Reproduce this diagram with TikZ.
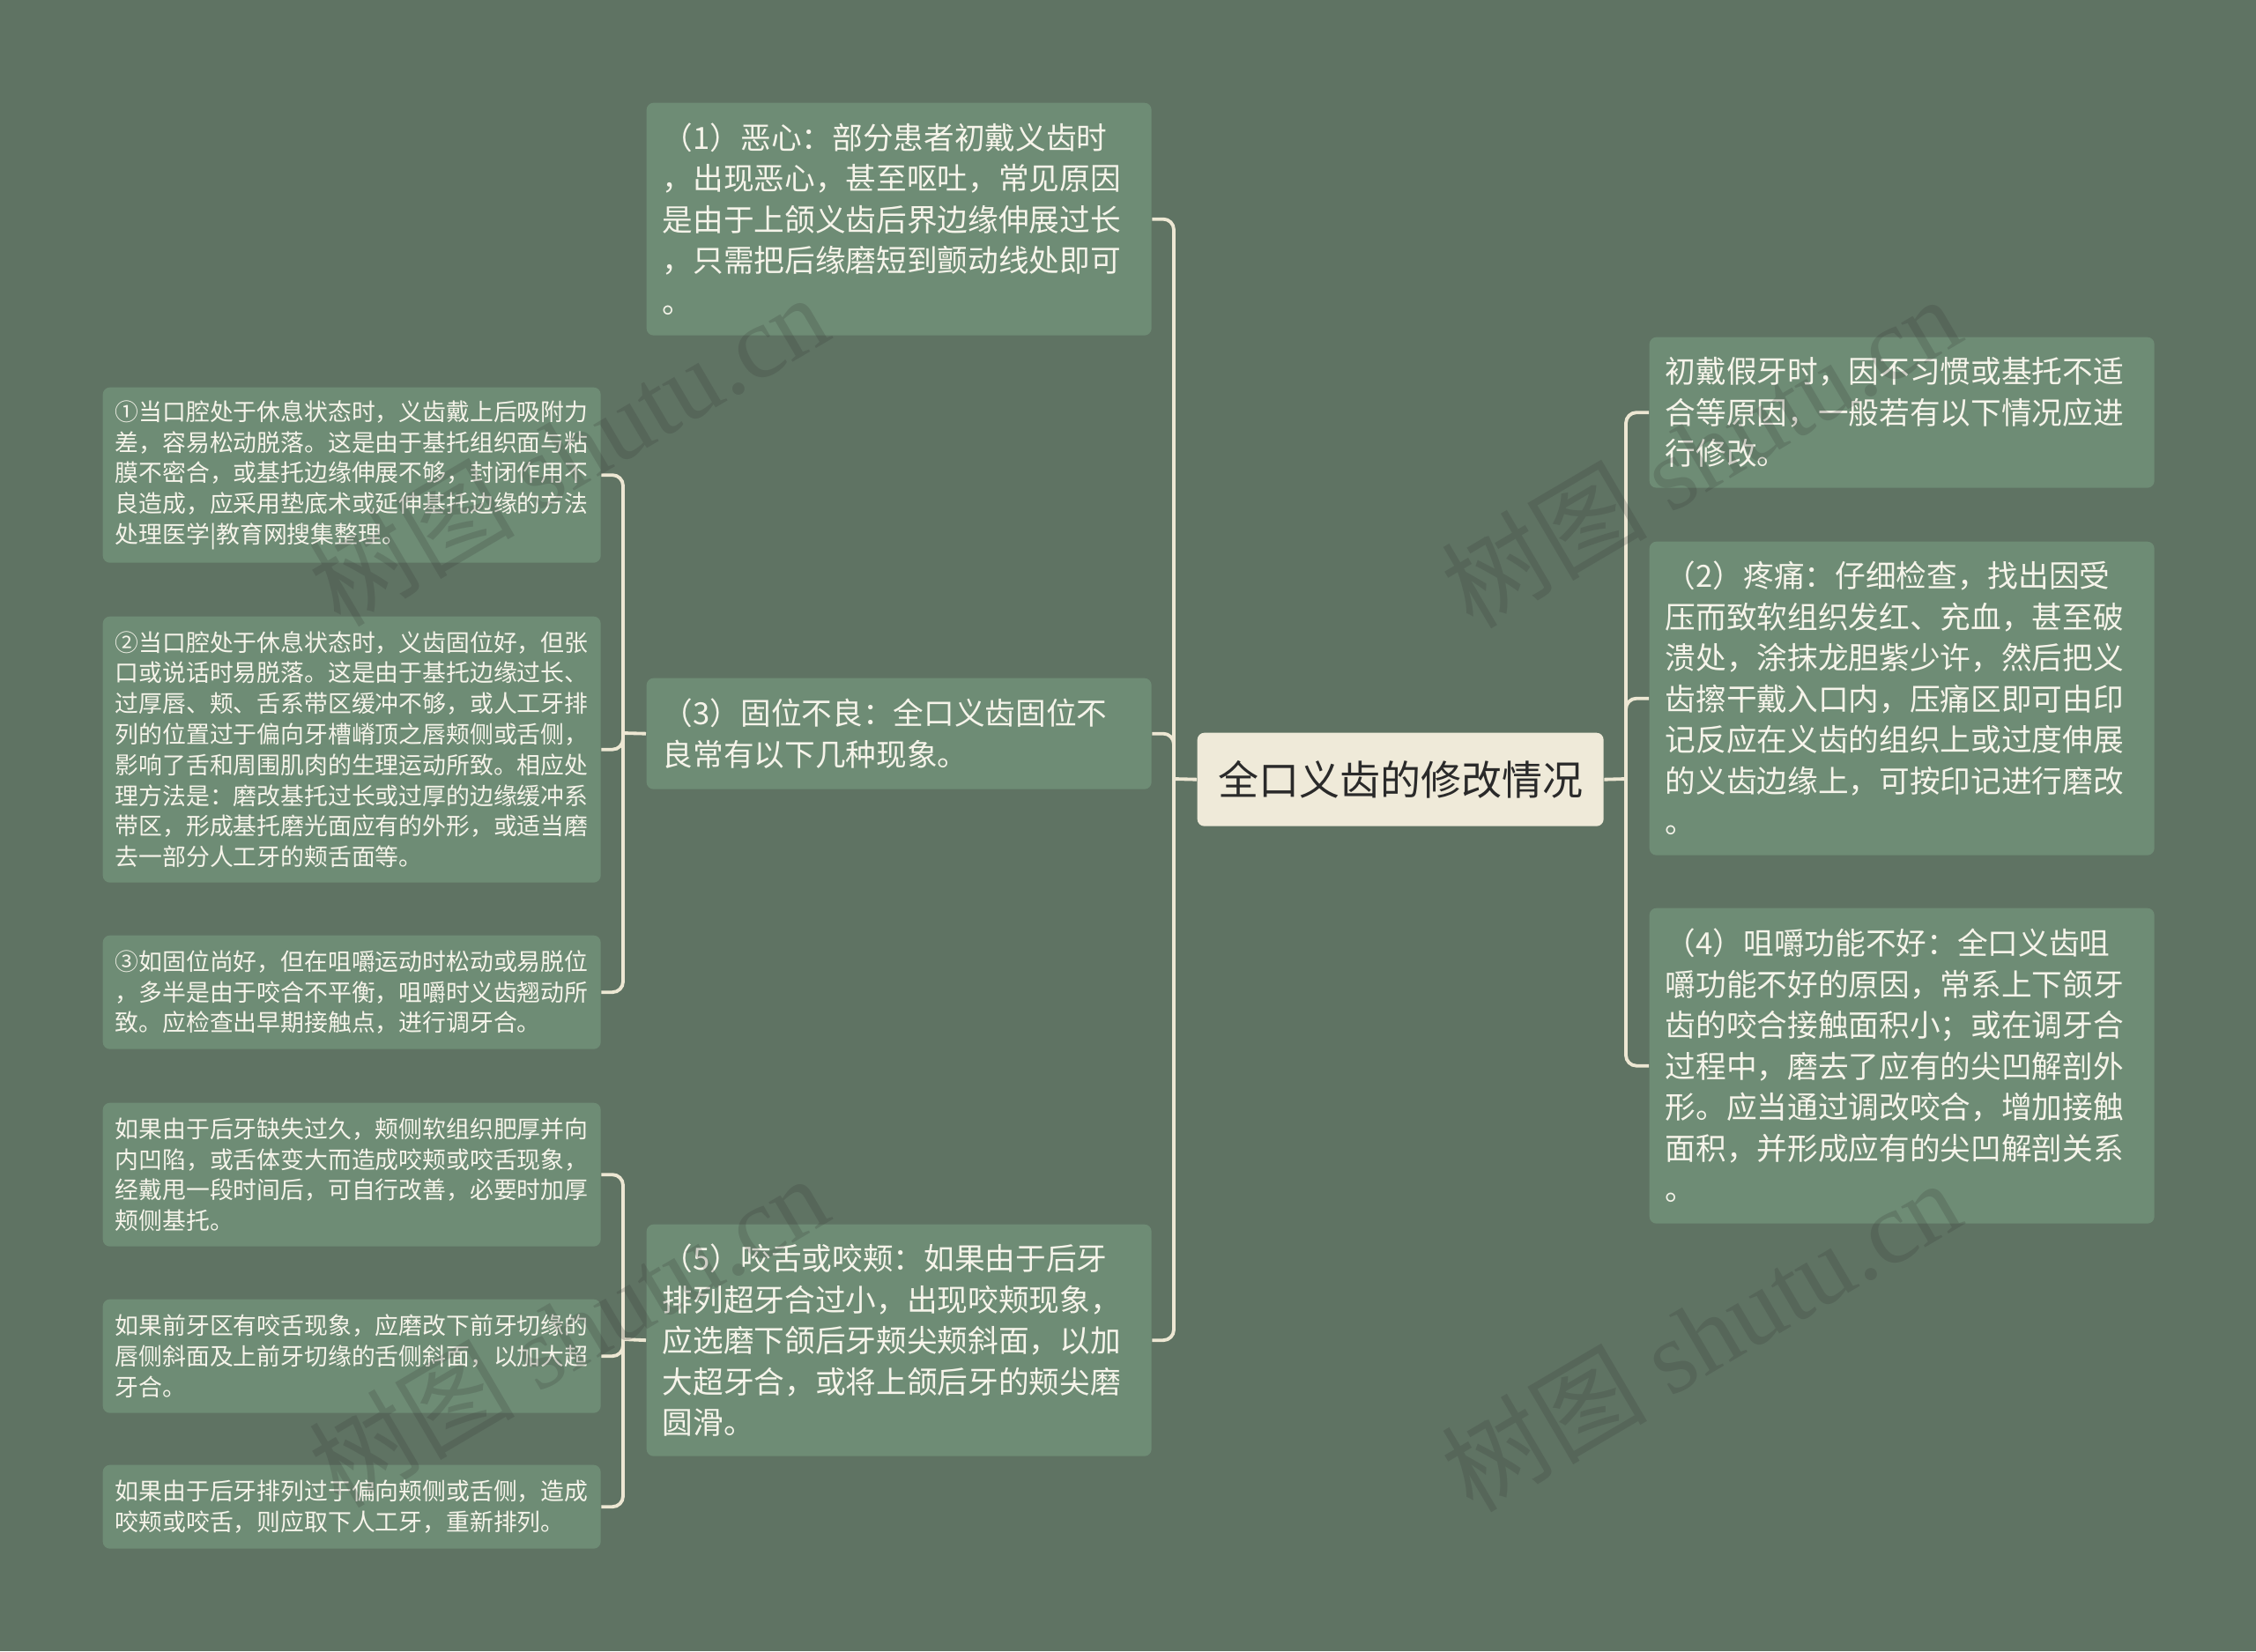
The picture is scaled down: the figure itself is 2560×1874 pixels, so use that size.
\documentclass[tikz,border=0pt]{standalone}
\usepackage{fontspec}
\setmainfont{Noto Sans CJK SC}
\newfontfamily\wmserif{Liberation Serif}
\definecolor{bg}{HTML}{5F7363}
\definecolor{boxc}{HTML}{6E8C75}
\definecolor{cream}{HTML}{EFEAD9}
\definecolor{txt}{HTML}{F6F4EA}
\definecolor{ctxt}{HTML}{2A2A2A}
\definecolor{linkc}{HTML}{EDE7D3}
\begin{document}
\begin{tikzpicture}[x=0.3pt,y=-0.3pt,
  mainbox/.style={fill=boxc, rounded corners=2.4pt, anchor=north west, text=txt, align=left, text width=161pt, inner xsep=5.45pt, inner ysep=0pt, font=\fontsize{10.4pt}{13.95pt}\selectfont},
  smallbox/.style={fill=boxc, rounded corners=2.4pt, anchor=north west, text=txt, align=left, text width=161pt, inner xsep=4.25pt, inner ysep=0pt, font=\fontsize{8.05pt}{10.44pt}\selectfont},
  rootbox/.style={fill=cream, rounded corners=2.4pt, anchor=north west, text=ctxt, inner sep=0pt, font=\fontsize{13.8pt}{16pt}\selectfont},
  link/.style={draw=linkc, line width=1.15pt, rounded corners=3.6pt},
  wm/.style={text=black!80, text opacity=0.2, font=\fontsize{35pt}{40pt}\selectfont, inner sep=0pt, rotate=30.5},
]
\fill[bg] (0,0) rectangle (2560,1874);
\useasboundingbox (0,0) rectangle (2560,1874);

% root
\node[rootbox, minimum width=138.3pt, minimum height=31.8pt] (c) at (1358,831) {全口义齿的修改情况};

% left main boxes
\node[mainbox, minimum height=79.2pt] (n1) at (733,116) {（1）恶心：部分患者初戴义齿时\\，出现恶心，甚至呕吐，常见原因\\是由于上颌义齿后界边缘伸展过长\\，只需把后缘磨短到颤动线处即可\\。};
\node[mainbox, minimum height=37.8pt] (n3) at (733,769) {（3）固位不良：全口义齿固位不\\良常有以下几种现象。};
\node[mainbox, minimum height=78.9pt] (n5) at (733,1389) {（5）咬舌或咬颊：如果由于后牙\\排列超牙合过小，出现咬颊现象，\\应选磨下颌后牙颊尖颊斜面，以加\\大超牙合，或将上颌后牙的颊尖磨\\圆滑。};

% right boxes
\node[mainbox, minimum height=51.3pt] (r0) at (1871,382) {初戴假牙时，因不习惯或基托不适\\合等原因，一般若有以下情况应进\\行修改。};
\node[mainbox, minimum height=106.8pt] (r2) at (1871,614) {（2）疼痛：仔细检查，找出因受\\压而致软组织发红、充血，甚至破\\溃处，涂抹龙胆紫少许，然后把义\\齿擦干戴入口内，压痛区即可由印\\记反应在义齿的组织上或过度伸展\\的义齿边缘上，可按印记进行磨改\\。};
\node[mainbox, minimum height=107.4pt] (r4) at (1871,1030) {（4）咀嚼功能不好：全口义齿咀\\嚼功能不好的原因，常系上下颌牙\\齿的咬合接触面积小；或在调牙合\\过程中，磨去了应有的尖凹解剖外\\形。应当通过调改咬合，增加接触\\面积，并形成应有的尖凹解剖关系\\。};

% left small boxes
\node[smallbox, minimum height=59.7pt] (l1) at (116,439) {①当口腔处于休息状态时，义齿戴上后吸附力\\差，容易松动脱落。这是由于基托组织面与粘\\膜不密合，或基托边缘伸展不够，封闭作用不\\良造成，应采用垫底术或延伸基托边缘的方法\\处理医学|教育网搜集整理。};
\node[smallbox, minimum height=90.6pt] (l2) at (116,699) {②当口腔处于休息状态时，义齿固位好，但张\\口或说话时易脱落。这是由于基托边缘过长、\\过厚唇、颊、舌系带区缓冲不够，或人工牙排\\列的位置过于偏向牙槽嵴顶之唇颊侧或舌侧，\\影响了舌和周围肌肉的生理运动所致。相应处\\理方法是：磨改基托过长或过厚的边缘缓冲系\\带区，形成基托磨光面应有的外形，或适当磨\\去一部分人工牙的颊舌面等。};
\node[smallbox, minimum height=38.7pt] (l3) at (116,1061) {③如固位尚好，但在咀嚼运动时松动或易脱位\\，多半是由于咬合不平衡，咀嚼时义齿翘动所\\致。应检查出早期接触点，进行调牙合。};
\node[smallbox, minimum height=48.9pt] (l4) at (116,1251) {如果由于后牙缺失过久，颊侧软组织肥厚并向\\内凹陷，或舌体变大而造成咬颊或咬舌现象，\\经戴甩一段时间后，可自行改善，必要时加厚\\颊侧基托。};
\node[smallbox, minimum height=38.7pt] (l5) at (116,1474) {如果前牙区有咬舌现象，应磨改下前牙切缘的\\唇侧斜面及上前牙切缘的舌侧斜面，以加大超\\牙合。};
\node[smallbox, minimum height=28.5pt] (l6) at (116,1662) {如果由于后牙排列过于偏向颊侧或舌侧，造成\\咬颊或咬舌，则应取下人工牙，重新排列。};

% connectors
\coordinate (lt) at (1332,884);
\coordinate (rt) at (1845,884);
\coordinate (b3) at (707,832);
\coordinate (b5) at (707,1520);
\draw[link] (c.west) -- (lt);
\draw[link] (lt) |- (n1.east);
\draw[link] (lt) |- (n3.east);
\draw[link] (lt) |- (n5.east);
\draw[link] (c.east) -- (rt);
\draw[link] (rt) |- (r0.west);
\draw[link] (rt) |- (r2.west);
\draw[link] (rt) |- (r4.west);
\draw[link] (n3.west) -- (b3);
\draw[link] (b3) |- (l1.east);
\draw[link] (b3) |- (l2.east);
\draw[link] (b3) |- (l3.east);
\draw[link] (n5.west) -- (b5);
\draw[link] (b5) |- (l4.east);
\draw[link] (b5) |- (l5.east);
\draw[link] (b5) |- (l6.east);

% watermarks
\node[wm] (w1) at (645,510) {树图 {\wmserif shutu.cn}};
\node[wm] (w2) at (645,1510) {树图 {\wmserif shutu.cn}};
\node[wm] (w3) at (1930,512) {树图 {\wmserif shutu.cn}};
\node[wm] (w4) at (1930,1515) {树图 {\wmserif shutu.cn}};
\end{tikzpicture}
\end{document}
